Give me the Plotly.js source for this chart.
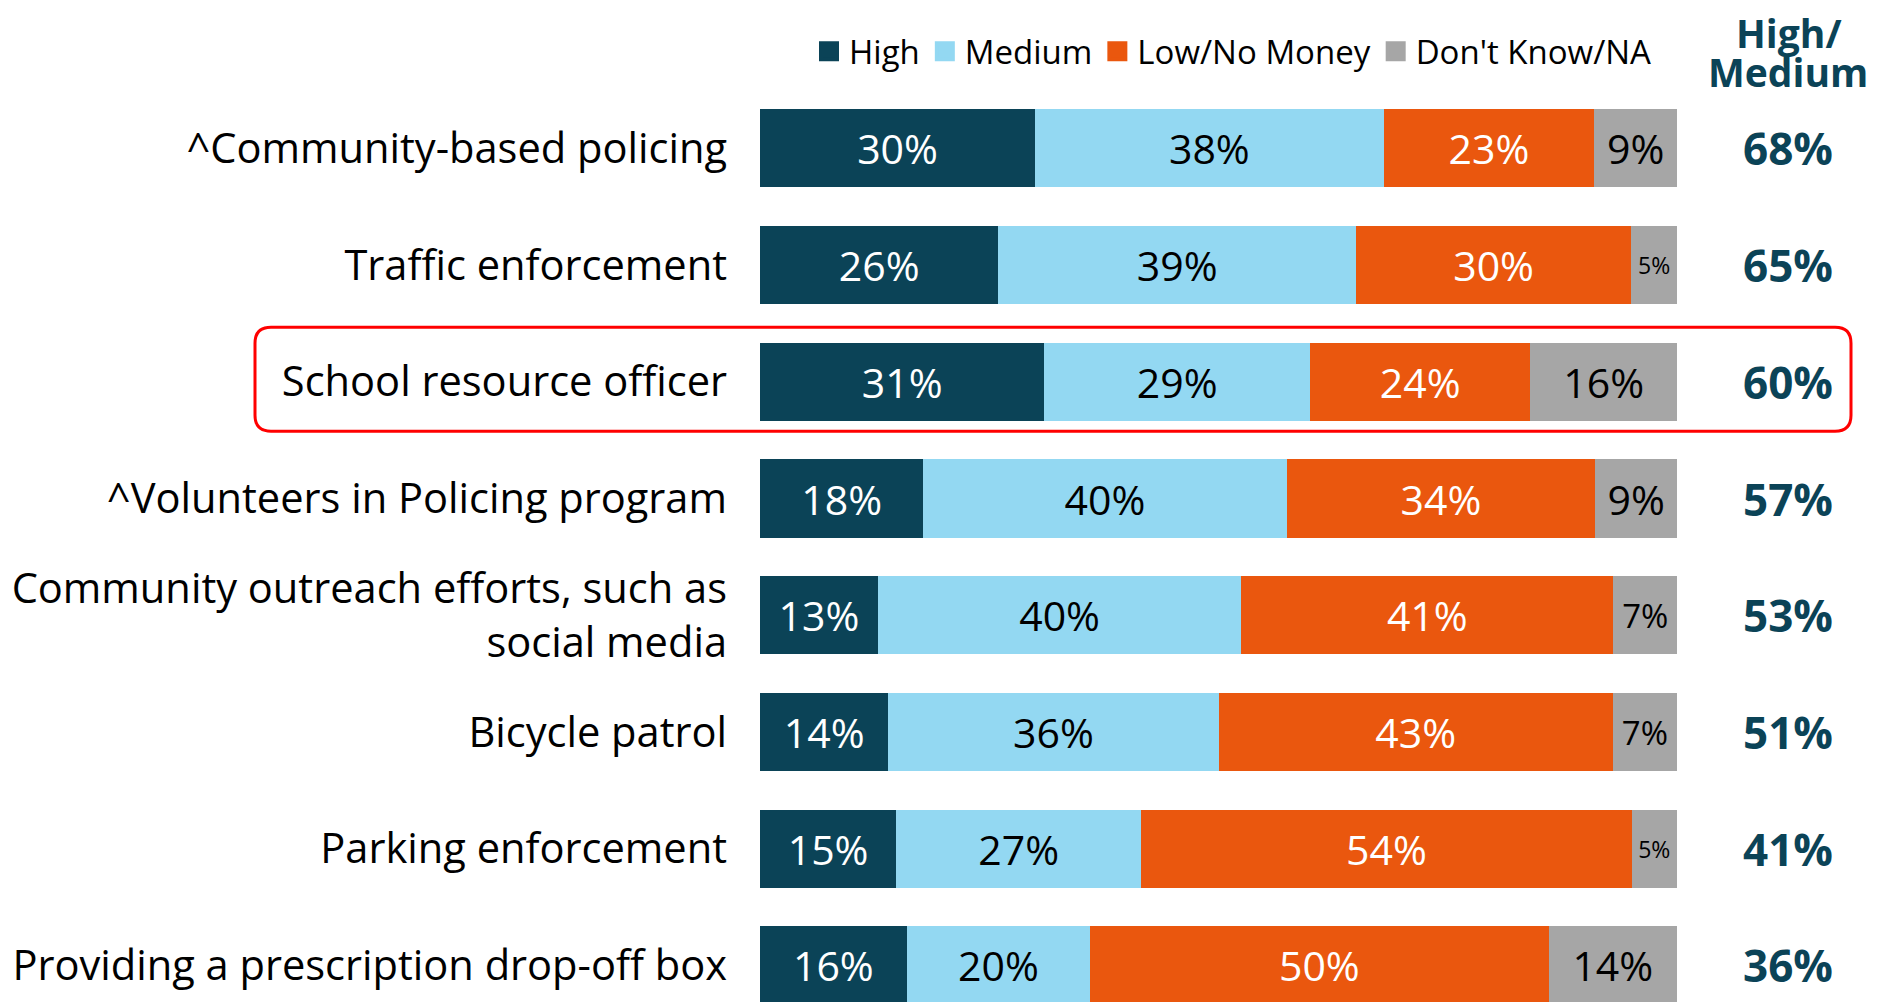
<!DOCTYPE html>
<html>
<head>
<meta charset="utf-8">
<script src="https://cdn.plot.ly/plotly-3.0.1.min.js"></script>
<style>
html,body{margin:0;padding:0;background:#fff;}
#chart{width:1894px;height:1002px;}
</style>
</head>
<body>
<div id="chart"></div>
<script>
// ---- data ----
const categories = [
  "^Community-based policing",
  "Traffic enforcement",
  "School resource officer",
  "^Volunteers in Policing program",
  "Community outreach efforts, such as<br>social media",
  "Bicycle patrol",
  "Parking enforcement",
  "Providing a prescription drop-off box"
];
const high       = [30, 26, 31, 18, 13, 14, 15, 16];
const medium     = [38, 39, 29, 40, 40, 36, 27, 20];
const lowNoMoney = [23, 30, 24, 34, 41, 43, 54, 50];
const dontKnow   = [9, 5, 16, 9, 7, 7, 5, 14];
const highMedium = [68, 65, 60, 57, 53, 51, 41, 36];
const seriesNames = ["High", "Medium", "Low/No Money", "Don't Know/NA"];

// ---- styles ----
const colors = ["#0B4357", "#93D8F2", "#EA570E", "#A6A6A6"];
const textColors = ["#FFFFFF", "#000000", "#FFFFFF", "#000000"];
const teal = "#0B4357";
const FONT = "Open Sans, Noto Sans, sans-serif";

// layout geometry (pixels)
const W = 1894, H = 1002;
const L = 760, R = 1677, T = 89.8, B = 1002;
const px2x = p => (p - L) / (R - L);
const py2y = p => (B - p) / (B - T);

function labelSize(v) { return v <= 5 ? 23 : (v <= 7 ? 33 : 41); }

const allSeries = [high, medium, lowNoMoney, dontKnow];
const traces = allSeries.map((vals, i) => ({
  type: "bar",
  orientation: "h",
  name: seriesNames[i],
  y: categories,
  x: vals,
  text: vals.map(v => v + "%"),
  textposition: "inside",
  insidetextanchor: "middle",
  textangle: 0,
  insidetextfont: {family: FONT, color: textColors[i], size: vals.map(labelSize)},
  marker: {color: colors[i], line: {width: 0}},
  hoverinfo: "skip",
  showlegend: false
}));

// legend entries
seriesNames.forEach((n, i) => {
  traces.push({
    type: "scatter", mode: "markers", name: n,
    x: [null], y: [null],
    marker: {symbol: "square", size: 16, color: colors[i], line: {width: 4, color: colors[i]}},
    hoverinfo: "skip", showlegend: true
  });
});

const annotations = categories.map((c, i) => ({
  xref: "paper", yref: "y",
  x: px2x(1788), y: c,
  text: highMedium[i] + "%",
  showarrow: false,
  xanchor: "center", yanchor: "middle",
  font: {family: FONT, size: 44, color: teal, weight: 700}
}));
annotations.push({
  xref: "paper", yref: "paper", x: px2x(1789), y: py2y(32),
  text: "High/", showarrow: false, xanchor: "center", yanchor: "middle",
  font: {family: FONT, size: 39, color: teal, weight: 700}
});
annotations.push({
  xref: "paper", yref: "paper", x: px2x(1788), y: py2y(71),
  text: "Medium", showarrow: false, xanchor: "center", yanchor: "middle",
  font: {family: FONT, size: 39, color: teal, weight: 700}
});

// highlight box (rounded rectangle)
const hx0 = px2x(255), hx1 = px2x(1851), hyTop = py2y(327), hyBot = py2y(431);
const rx = 16 / (R - L), ry = 16 / (B - T);
const boxPath =
  `M${hx0 + rx},${hyTop} L${hx1 - rx},${hyTop} Q${hx1},${hyTop} ${hx1},${hyTop - ry} ` +
  `L${hx1},${hyBot + ry} Q${hx1},${hyBot} ${hx1 - rx},${hyBot} ` +
  `L${hx0 + rx},${hyBot} Q${hx0},${hyBot} ${hx0},${hyBot + ry} ` +
  `L${hx0},${hyTop - ry} Q${hx0},${hyTop} ${hx0 + rx},${hyTop} Z`;

const layout = {
  width: W, height: H,
  margin: {l: L, r: W - R, t: T, b: H - B, pad: 0},
  paper_bgcolor: "#fff", plot_bgcolor: "#fff",
  barmode: "stack",
  barnorm: "percent",
  bargap: 0.33,
  font: {family: FONT, color: "#000"},
  xaxis: {range: [0, 100], visible: false, fixedrange: true},
  yaxis: {
    type: "category",
    categoryarray: categories,
    range: [7.313, -0.5],
    showgrid: false, zeroline: false, showline: false,
    ticks: "", ticklabelstandoff: 32,
    tickfont: {family: FONT, size: 41.6, color: "#000"},
    fixedrange: true
  },
  showlegend: true,
  legend: {
    orientation: "h",
    traceorder: "normal",
    x: px2x(809), xanchor: "left",
    y: py2y(51), yanchor: "middle",
    font: {family: FONT, size: 33, color: "#000"},
    bgcolor: "rgba(0,0,0,0)",
    itemclick: false, itemdoubleclick: false
  },
  annotations: annotations,
  shapes: [{
    type: "path", xref: "paper", yref: "paper",
    path: boxPath,
    line: {color: "#FF0000", width: 3},
    fillcolor: "rgba(0,0,0,0)"
  }]
};

Plotly.newPlot("chart", traces, layout, {displayModeBar: false, staticPlot: true});
</script>
</body>
</html>
